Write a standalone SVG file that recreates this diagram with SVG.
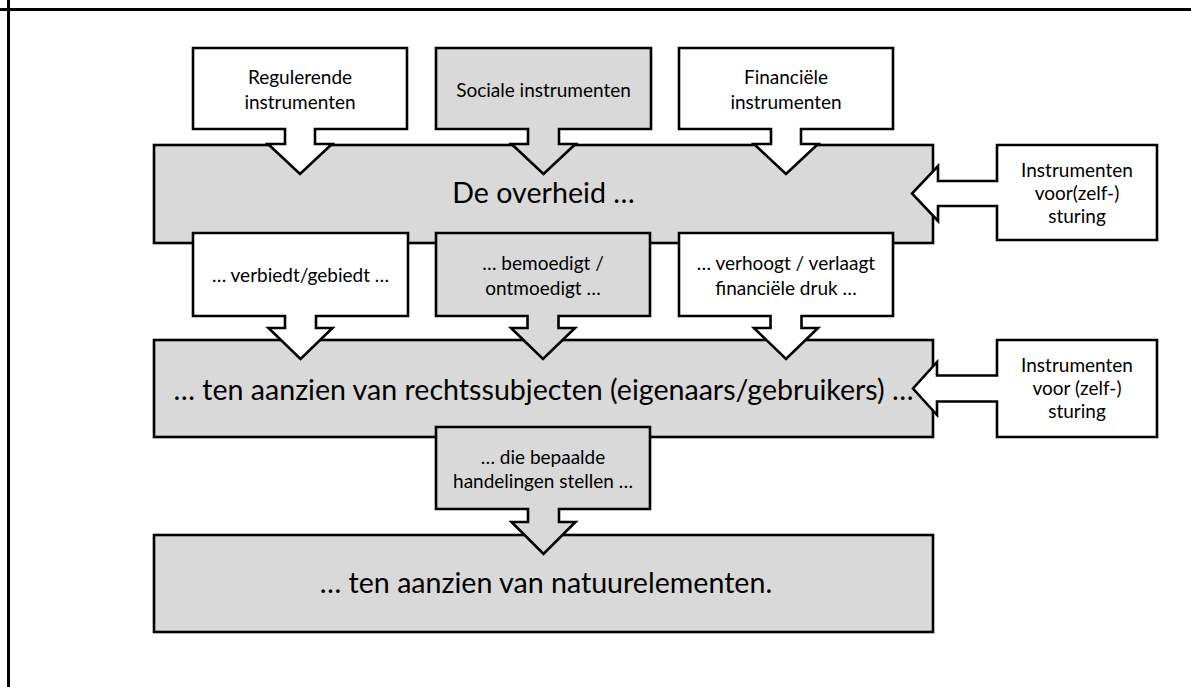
<svg xmlns="http://www.w3.org/2000/svg" width="1191" height="687" viewBox="0 0 1191 687">
  <style>
    .frame { stroke: #000; stroke-width: 3; fill: none; }
    .box { stroke: #000; stroke-width: 2.6; stroke-linejoin: miter; }
    .grey { fill: #d9d9d9; }
    .white { fill: #ffffff; }
    text { font-family: Lato, "Open Sans", "Liberation Sans", sans-serif; fill: #000; text-anchor: middle; }
    .big { font-size: 28.6px; }
    .small { font-size: 19px; }
  </style>

  <rect x="0" y="0" width="1191" height="687" fill="#ffffff"/>

  <!-- page frame: top rule and left rule -->
  <g id="frame">
    <line class="frame" x1="0" y1="9.5" x2="1191" y2="9.5"/>
    <line class="frame" x1="8.5" y1="0" x2="8.5" y2="687"/>
  </g>

  <!-- main statement blocks -->
  <g id="overheid">
    <rect class="box grey" x="154" y="145" width="779" height="98"/>
    <text class="big" x="543.5" y="203">De overheid …</text>
  </g>
  <g id="rechtssubjecten">
    <rect class="box grey" x="154" y="340" width="779" height="97"/>
    <text class="big" x="543.5" y="400">… ten aanzien van rechtssubjecten (eigenaars/gebruikers) …</text>
  </g>
  <g id="natuurelementen">
    <rect class="box grey" x="154" y="535" width="779" height="97"/>
    <text class="big" x="546" y="593">… ten aanzien van natuurelementen.</text>
  </g>

  <!-- callouts: boxes with block arrows into the blocks -->
  <g id="connectors">
    <g id="regulerende">
      <path class="box white" d="M193,48 H407 V129 H315 V144 H332 L300,174 L268,144 H285 V129 H193 Z"/>
      <text class="small" x="300" y="84">Regulerende</text>
      <text class="small" x="300" y="109">instrumenten</text>
    </g>
    <g id="sociale">
      <path class="box grey" d="M436,48 H651 V129 H559 V144 H575.5 L543.5,174 L511.5,144 H528 V129 H436 Z"/>
      <text class="small" x="543.5" y="97">Sociale instrumenten</text>
    </g>
    <g id="financiele">
      <path class="box white" d="M679,48 H893 V129 H801 V144 H818 L786,174 L754,144 H771 V129 H679 Z"/>
      <text class="small" x="786" y="84">Financiële</text>
      <text class="small" x="786" y="109">instrumenten</text>
    </g>
    <g id="zelfsturing-1">
      <path class="box white" d="M997,145 H1157 V240 H997 V206 H938 V221 L912,193.5 L938,166 V181 H997 Z"/>
      <text class="small" x="1077" y="177">Instrumenten</text>
      <text class="small" x="1077" y="200">voor(zelf-)</text>
      <text class="small" x="1077" y="223">sturing</text>
    </g>

    <g id="verbiedt">
      <path class="box white" d="M193,233 H408 V316 H316 V328 H332.5 L300.5,359 L268.5,328 H285 V316 H193 Z"/>
      <text class="small" x="300.5" y="282">… verbiedt/gebiedt …</text>
    </g>
    <g id="bemoedigt">
      <path class="box grey" d="M436,233 H650 V316 H558.5 V328 H575 L543,359 L511,328 H527.5 V316 H436 Z"/>
      <text class="small" x="543" y="269.5">… bemoedigt /</text>
      <text class="small" x="543" y="294.5">ontmoedigt …</text>
    </g>
    <g id="verhoogt">
      <path class="box white" d="M679,233 H893 V316 H801.5 V328 H818 L786,359 L754,328 H770.5 V316 H679 Z"/>
      <text class="small" x="786" y="269.5">… verhoogt / verlaagt</text>
      <text class="small" x="786" y="294.5">financiële druk …</text>
    </g>
    <g id="zelfsturing-2">
      <path class="box white" d="M997,340 H1157 V437 H997 V401.5 H937 V415 L913,388.5 L937,362 V375.5 H997 Z"/>
      <text class="small" x="1077" y="372">Instrumenten</text>
      <text class="small" x="1077" y="395">voor (zelf-)</text>
      <text class="small" x="1077" y="418">sturing</text>
    </g>

    <g id="handelingen">
      <path class="box grey" d="M436,427 H650 V509 H559 V522 H575.5 L543.5,554 L511.5,522 H528 V509 H436 Z"/>
      <text class="small" x="543" y="464">… die bepaalde</text>
      <text class="small" x="543" y="488">handelingen stellen …</text>
    </g>
  </g>
</svg>
